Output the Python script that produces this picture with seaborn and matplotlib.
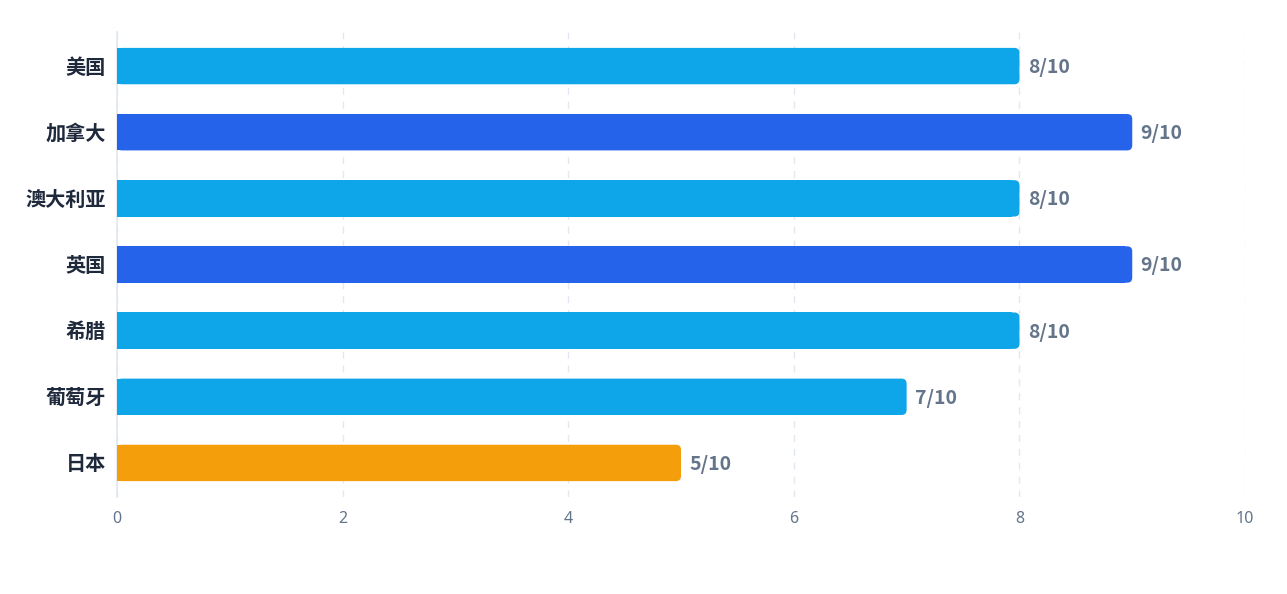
import pandas as pd
import matplotlib.pyplot as plt
import seaborn as sns
from matplotlib.patches import FancyBboxPatch

countries = ["美国", "加拿大", "澳大利亚", "英国", "希腊", "葡萄牙", "日本"]
scores = [8, 9, 8, 9, 8, 7, 5]
labels = ["8/10", "9/10", "8/10", "9/10", "8/10", "7/10", "5/10"]
colors = ["#0EA5E9", "#2563EB", "#0EA5E9", "#2563EB", "#0EA5E9", "#0EA5E9", "#F59E0B"]

df = pd.DataFrame({"country": countries, "score": scores})

sns.set_theme(style="white")
plt.rcParams['font.family'] = ['Noto Sans', 'Noto Sans CJK SC', 'DejaVu Sans']

fig = plt.figure(figsize=(12.87, 5.94), dpi=100)
ax = fig.add_axes([0.0909, 0.1633, 0.8765, 0.7828])

sns.barplot(data=df, y="country", x="score", hue="country", palette=colors,
            saturation=1, orient="h", width=0.55, legend=False, ax=ax, zorder=3)

# round the right end of each bar
r = 0.045
aspect = (ax.get_position().width * 1287 / 10) / (ax.get_position().height * 594 / 7.03)
for p in list(ax.patches):
    x, y, w, h = p.get_x(), p.get_y(), p.get_width(), p.get_height()
    fc = p.get_facecolor()
    p.set_width(w - r * 1.5)
    p.set_linewidth(0)
    rb = FancyBboxPatch((x, y), w, h, boxstyle=f"round,pad=0,rounding_size={r}",
                        mutation_aspect=aspect, facecolor=fc, edgecolor="none", zorder=3)
    ax.add_patch(rb)

for i, (v, lab) in enumerate(zip(scores, labels)):
    ax.annotate(lab, (v, i), xytext=(6, -1), textcoords="offset points",
                ha="left", va="center", fontsize=14, fontweight="bold", color="#64748B",
                family=["Noto Sans CJK SC", "DejaVu Sans"])

ax.set_xlim(0, 10)
ax.set_ylim(6.515, -0.515)
ax.set_xticks([0, 2, 4, 6, 8, 10])
ax.grid(axis="x", color="#E2E8F0", linestyle=(0, (5, 5)), linewidth=1, zorder=0)
for sp in ["top", "right", "bottom"]:
    ax.spines[sp].set_visible(False)
ax.spines["left"].set_color("#E2E8F0")
ax.spines["left"].set_linewidth(1.2)
ax.set_xlabel("")
ax.set_ylabel("")
ax.tick_params(axis="x", length=0, pad=10, labelsize=11.5, labelcolor="#64748B")
ax.tick_params(axis="y", length=0, pad=8, labelsize=14.5, labelcolor="#1E293B")
for t in ax.get_yticklabels():
    t.set_fontweight("bold")

fig.savefig("out.png", dpi=100)
